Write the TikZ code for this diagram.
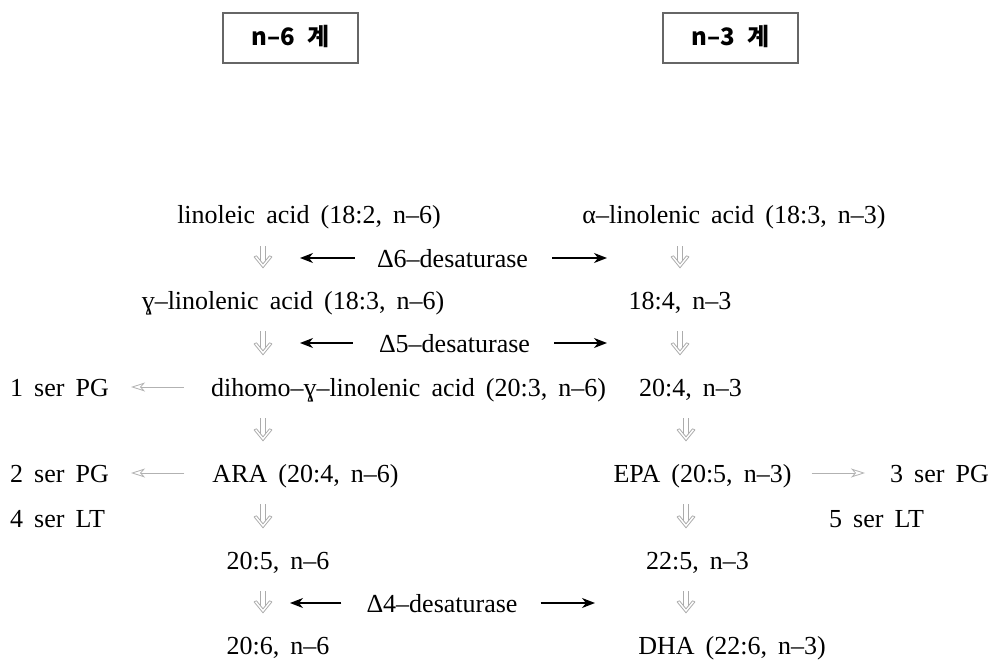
\documentclass[tikz,border=0pt]{standalone}
\usepackage{fontspec}
\setmainfont[WordSpace={1.7}]{Liberation Serif}
\newfontfamily\hdfont{Noto Sans CJK KR}
\usetikzlibrary{arrows.meta,calc}
\tikzset{
  txt/.style={inner sep=0pt, text height=20pt, text depth=2pt, font=\fontsize{26}{31}\selectfont},
  hdbox/.style={draw=black!60, line width=1.2pt, minimum width=135pt, minimum height=50pt,
    inner sep=0pt, text height=18pt, text depth=2pt, font=\hdfont\bfseries\fontsize{24}{29}\selectfont},
  % hollow double-shafted downward arrow, centred in the gap between two rows
  dbl/.style={draw=gray!65, line width=0.8pt, to path={
    let \p1=(\tikztostart), \p2=(\tikztotarget) in
    (\x1-2.5pt,\y1-20pt) -- (\x1-2.5pt,\y2+27.5pt)
    (\x1+2.5pt,\y1-20pt) -- (\x1+2.5pt,\y2+27.5pt)
    (\x1-9pt,\y2+32pt) -- (\x1,\y2+21pt) -- (\x1+9pt,\y2+32pt)
    (\x1-6.5pt,\y2+33pt) -- (\x1,\y2+25pt) -- (\x1+6.5pt,\y2+33pt)
    (\x1-9pt,\y2+32pt) -- (\x1-6.5pt,\y2+33pt)
    (\x1+9pt,\y2+32pt) -- (\x1+6.5pt,\y2+33pt)
  }},
  grayarr/.style={draw=gray!60, line width=0.8pt,
    -{Stealth[open, length=14pt, width=9pt, inset=4pt]}},
  blkarr/.style={draw=black, line width=1.3pt,
    -{Stealth[length=13pt, width=10pt, inset=4pt]}},
}
\begin{document}
\begin{tikzpicture}[x=1pt, y=-1pt]
\useasboundingbox (0,0) rectangle (995,660);

% column headings
\node[hdbox] (h6) at (290.5,38) {n–6\hspace{0.5em}계};
\node[hdbox] (h3) at (730.5,38) {n–3\hspace{0.5em}계};

% fatty acids of the n-6 series
\node[txt] (la)   at (309,215)   {linoleic acid (18:2, n–6)};
\node[txt] (gla)  at (293,300)   {ɣ–linolenic acid (18:3, n–6)};
\node[txt] (dgla) at (408.5,387) {dihomo–ɣ–linolenic acid (20:3, n–6)};
\node[txt] (ara)  at (305.5,473) {ARA (20:4, n–6)};
\node[txt] (r205) at (278,560)   {20:5, n–6};
\node[txt] (r206) at (278,645)   {20:6, n–6};

% fatty acids of the n-3 series
\node[txt] (ala)  at (734,215)   {α–linolenic acid (18:3, n–3)};
\node[txt] (r184) at (680,300)   {18:4, n–3};
\node[txt] (r204) at (690.5,387) {20:4, n–3};
\node[txt] (epa)  at (702.5,473) {EPA (20:5, n–3)};
\node[txt] (r225) at (697.5,560) {22:5, n–3};
\node[txt] (dha)  at (732,645)   {DHA (22:6, n–3)};

% eicosanoid products
\node[txt, anchor=west] (s1pg) at (10,387)  {1 ser PG};
\node[txt, anchor=west] (s2pg) at (10,473)  {2 ser PG};
\node[txt, anchor=west] (s4lt) at (10,518)  {4 ser LT};
\node[txt, anchor=west] (s3pg) at (890,473) {3 ser PG};
\node[txt] (s5lt) at (876.5,518) {5 ser LT};

% desaturase enzymes
\node[txt] (d6) at (452.5,258) {Δ6–desaturase};
\node[txt] (d5) at (454.5,343) {Δ5–desaturase};
\node[txt] (d4) at (442,603)   {Δ4–desaturase};

% x positions of the conversion arrows
\coordinate (xL) at (263,0);
\coordinate (xR) at (680,0);
\coordinate (xS) at (686,0);

% conversion steps, n-6 series
\draw[dbl] (la.south -| xL)   to (gla.north -| xL);
\draw[dbl] (gla.south -| xL)  to (dgla.north -| xL);
\draw[dbl] (dgla.south -| xL) to (ara.north -| xL);
\draw[dbl] (ara.south -| xL)  to (r205.north -| xL);
\draw[dbl] (r205.south -| xL) to (r206.north -| xL);

% conversion steps, n-3 series
\draw[dbl] (ala.south -| xR)  to (r184.north -| xR);
\draw[dbl] (r184.south -| xR) to (r204.north -| xR);
\draw[dbl] (r204.south -| xS) to (epa.north -| xS);
\draw[dbl] (epa.south -| xS)  to (r225.north -| xS);
\draw[dbl] (r225.south -| xS) to (dha.north -| xS);

% enzymes acting on both series
\coordinate (e6l) at (300,258);  \coordinate (e6r) at (607,258);
\coordinate (e5l) at (300,343);  \coordinate (e5r) at (607,343);
\coordinate (e4l) at (290,603);  \coordinate (e4r) at (595,603);
\draw[blkarr, shorten <=22pt] (d6.west) -- (e6l);
\draw[blkarr, shorten <=24pt] (d6.east) -- (e6r);
\draw[blkarr, shorten <=26pt] (d5.west) -- (e5l);
\draw[blkarr, shorten <=24pt] (d5.east) -- (e5r);
\draw[blkarr, shorten <=25pt] (d4.west) -- (e4l);
\draw[blkarr, shorten <=23pt] (d4.east) -- (e4r);

% eicosanoid formation
\draw[grayarr, shorten <=27pt, shorten >=22pt] (dgla.west) -- (s1pg.east);
\draw[grayarr, shorten <=28pt, shorten >=22pt] (ara.west) -- (s2pg.east);
\draw[grayarr, shorten <=20pt, shorten >=25pt] (epa.east) -- (s3pg.west);
\end{tikzpicture}
\end{document}
